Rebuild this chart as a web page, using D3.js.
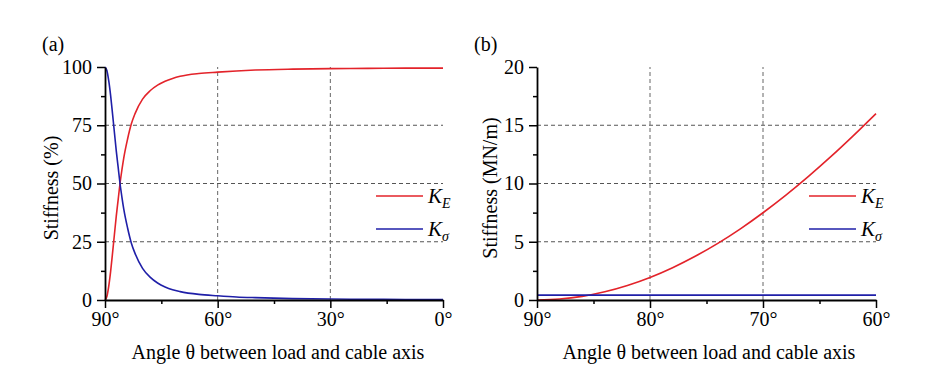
<!DOCTYPE html>
<html>
<head>
<meta charset="utf-8">
<script src="https://cdn.jsdelivr.net/npm/d3@7"></script>
<style>
  body { margin: 0; background: #fff; }
  svg { display: block; }
  svg text { font-family: 'Times New Roman', 'Liberation Serif', Times, serif; fill: #000; }
</style>
</head>
<body>
<div id="chart"></div>
<script>
// Panel (a): share of stiffness (%) vs angle
const anglesA = [90, 89.5, 89, 88.5, 88, 87.5, 87, 86.5, 86, 85.5, 85, 84, 83, 82, 80, 78, 76, 74, 72, 70, 65, 60, 55, 50, 40, 30, 20, 10, 0];
const kEPercent = [0, 1.5, 6, 12.3, 20, 28, 36, 43, 50, 55.8, 61, 69, 75.5, 80, 86.2, 89.8, 92.2, 93.9, 95.1, 96.0, 97.2, 97.8, 98.3, 98.7, 99.1, 99.3, 99.4, 99.5, 99.5];
const kSigmaPercent = [100, 98.5, 94, 87.7, 80, 72, 64, 57, 50, 44.2, 39, 31, 24.5, 20, 13.6, 9.8, 7.3, 5.6, 4.4, 3.6, 2.4, 1.8, 1.3, 1.0, 0.6, 0.4, 0.3, 0.2, 0.2];

// Panel (b): stiffness (MN/m) vs angle
const anglesB = [90, 88, 86, 84, 82, 80, 78, 76, 74, 72, 70, 68, 66, 64, 62, 60];
const kEMNm = [0, 0.08, 0.31, 0.70, 1.24, 1.93, 2.77, 3.75, 4.86, 6.11, 7.49, 8.98, 10.59, 12.30, 14.11, 16.0];
const kSigmaMNm = [0.42, 0.42, 0.42, 0.42, 0.42, 0.42, 0.42, 0.42, 0.42, 0.42, 0.42, 0.42, 0.42, 0.42, 0.42, 0.42];

const RED = '#e3232a';
const BLUE = '#1f1fa8';
const FONT = "'Times New Roman', 'Liberation Serif', Times, serif";

const svg = d3.select('#chart')
    .append('svg')
    .attr('width', 952)
    .attr('height', 389)
    .attr('font-family', FONT);

function drawPanel(opts) {
    const x = d3.scaleLinear().domain(opts.xDomain).range(opts.xRange);
    const y = d3.scaleLinear().domain(opts.yDomain).range([300, 67]);
    const g = svg.append('g');

    // Grid lines
    g.selectAll('.hgrid')
        .data(opts.yGrid)
        .enter()
        .append('line')
        .attr('x1', opts.xRange[0])
        .attr('x2', opts.xRange[1])
        .attr('y1', d => y(d))
        .attr('y2', d => y(d))
        .attr('stroke', '#555')
        .attr('stroke-width', 1)
        .attr('stroke-dasharray', '4,3');

    g.selectAll('.vgrid')
        .data(opts.xGrid)
        .enter()
        .append('line')
        .attr('x1', d => x(d))
        .attr('x2', d => x(d))
        .attr('y1', y.range()[0])
        .attr('y2', y.range()[1])
        .attr('stroke', '#666')
        .attr('stroke-width', 1)
        .attr('stroke-dasharray', '4,3');

    // Curves
    const line = (vals) => d3.line()
        .x((d, i) => x(opts.angles[i]))
        .y(d => y(d))
        .curve(d3.curveMonotoneX)(vals);

    g.append('path')
        .attr('d', line(opts.kE))
        .attr('fill', 'none')
        .attr('stroke', RED)
        .attr('stroke-width', 1.6);

    g.append('path')
        .attr('d', line(opts.kS))
        .attr('fill', 'none')
        .attr('stroke', BLUE)
        .attr('stroke-width', 1.6);

    // Minor ticks
    g.append('g')
        .attr('transform', 'translate(0,300)')
        .call(d3.axisBottom(x).tickValues(opts.xMinor).tickSize(4).tickSizeOuter(0).tickFormat(''))
        .call(a => a.select('.domain').remove())
        .selectAll('line').attr('stroke-width', 1.5);

    g.append('g')
        .attr('transform', `translate(${opts.xRange[0]},0)`)
        .call(d3.axisLeft(y).tickValues(opts.yMinor).tickSize(4).tickSizeOuter(0).tickFormat(''))
        .call(a => a.select('.domain').remove())
        .selectAll('line').attr('stroke-width', 1.5);

    // Major axes
    const xAxis = g.append('g')
        .attr('transform', 'translate(0,300)')
        .call(d3.axisBottom(x).tickValues(opts.xTicks).tickSize(8).tickSizeOuter(0).tickPadding(4).tickFormat(d => d + '°'));
    const yAxis = g.append('g')
        .attr('transform', `translate(${opts.xRange[0]},0)`)
        .call(d3.axisLeft(y).tickValues(opts.yTicks).tickSize(8).tickSizeOuter(0).tickPadding(5));

    [xAxis, yAxis].forEach(a => {
        a.attr('font-family', FONT).attr('font-size', 20);
        a.select('.domain').attr('stroke-width', 1.8);
        a.selectAll('line').attr('stroke-width', 1.5);
        a.selectAll('text').attr('fill', '#000');
    });

    // Panel letter
    g.append('text')
        .attr('x', opts.letterX)
        .attr('y', 51)
        .attr('font-size', 20)
        .text(opts.letter);

    // Y axis label
    g.append('text')
        .attr('transform', `translate(${opts.yLabelX},188) rotate(-90)`)
        .attr('text-anchor', 'middle')
        .attr('font-size', 20)
        .text(opts.yLabel);

    // X axis label
    g.append('text')
        .attr('x', opts.xLabelX)
        .attr('y', 359)
        .attr('text-anchor', 'middle')
        .attr('font-size', 20)
        .text('Angle θ between load and cable axis');

    // Legend
    const legend = g.append('g')
        .attr('transform', `translate(${opts.legendX},196)`);
    [[RED, 'E', 0], [BLUE, 'σ', 33]].forEach(([c, sub, dy]) => {
        legend.append('line')
            .attr('x1', 0).attr('x2', 47)
            .attr('y1', dy).attr('y2', dy)
            .attr('stroke', c)
            .attr('stroke-width', 1.6);
        const t = legend.append('text')
            .attr('x', 52)
            .attr('y', dy + 7)
            .attr('font-size', 21)
            .attr('font-style', 'italic');
        t.append('tspan').text('K');
        t.append('tspan')
            .attr('dy', 5)
            .attr('font-size', 14)
            .text(sub);
    });
}

drawPanel({
    letter: '(a)', letterX: 42,
    xDomain: [90, 0], xRange: [105, 443],
    yDomain: [0, 100],
    xTicks: [90, 60, 30, 0], xMinor: [75, 45, 15],
    yTicks: [0, 25, 50, 75, 100], yMinor: [12.5, 37.5, 62.5, 87.5],
    xGrid: [60, 30], yGrid: [25, 50, 75],
    angles: anglesA, kE: kEPercent, kS: kSigmaPercent,
    yLabel: 'Stiffness (%)', yLabelX: 58,
    xLabelX: 278, legendX: 376
});

drawPanel({
    letter: '(b)', letterX: 474,
    xDomain: [90, 60], xRange: [537, 876],
    yDomain: [0, 20],
    xTicks: [90, 80, 70, 60], xMinor: [85, 75, 65],
    yTicks: [0, 5, 10, 15, 20], yMinor: [2.5, 7.5, 12.5, 17.5],
    xGrid: [80, 70], yGrid: [5, 10, 15],
    angles: anglesB, kE: kEMNm, kS: kSigmaMNm,
    yLabel: 'Stiffness (MN/m)', yLabelX: 497,
    xLabelX: 709, legendX: 809
});
</script>
</body>
</html>
